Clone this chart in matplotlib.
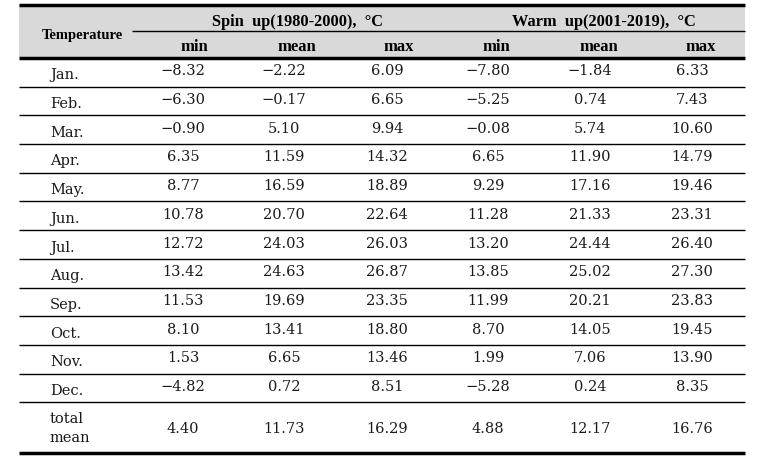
import matplotlib
matplotlib.use("Agg")
import matplotlib.pyplot as plt
from matplotlib.patches import Rectangle

months = ["Jan.", "Feb.", "Mar.", "Apr.", "May.", "Jun.", "Jul.", "Aug.",
          "Sep.", "Oct.", "Nov.", "Dec.", "total\nmean"]
groups = ["Spin  up(1980-2000),  \u00b0C", "Warm  up(2001-2019),  \u00b0C"]
subcols = ["min", "mean", "max"]

spin_min = [-8.32, -6.30, -0.90, 6.35, 8.77, 10.78, 12.72, 13.42, 11.53, 8.10, 1.53, -4.82, 4.40]
spin_mean = [-2.22, -0.17, 5.10, 11.59, 16.59, 20.70, 24.03, 24.63, 19.69, 13.41, 6.65, 0.72, 11.73]
spin_max = [6.09, 6.65, 9.94, 14.32, 18.89, 22.64, 26.03, 26.87, 23.35, 18.80, 13.46, 8.51, 16.29]
warm_min = [-7.80, -5.25, -0.08, 6.65, 9.29, 11.28, 13.20, 13.85, 11.99, 8.70, 1.99, -5.28, 4.88]
warm_mean = [-1.84, 0.74, 5.74, 11.90, 17.16, 21.33, 24.44, 25.02, 20.21, 14.05, 7.06, 0.24, 12.17]
warm_max = [6.33, 7.43, 10.60, 14.79, 19.46, 23.31, 26.40, 27.30, 23.83, 19.45, 13.90, 8.35, 16.76]

columns = [spin_min, spin_mean, spin_max, warm_min, warm_mean, warm_max]

# layout (pixels)
W, H = 781, 465
left, right = 19, 745
top = 5
mid = 31
hdr_bot = 58
row_h = 28.7
last_h = 51
num_x = [183, 284, 387, 488, 590, 692]
hdr_x = [194, 297, 399, 496, 599, 701]
group_x = [297, 604]
label_x = 50
sub_line_x0 = 132

fig = plt.figure(figsize=(W / 100, H / 100), dpi=100)
ax = fig.add_axes([0, 0, 1, 1])
ax.set_xlim(0, W)
ax.set_ylim(H, 0)
ax.axis("off")

# header background
ax.add_patch(Rectangle((left, top), right - left, hdr_bot - top,
                       facecolor="#d9d9d9", edgecolor="none", zorder=0))

serif = ["Liberation Serif", "DejaVu Serif"]
numfont = ["DejaVu Serif"]

# header text
ax.text(82, 36, "Temperature", ha="center", va="center",
        fontsize=10.5, fontweight="bold", family=serif)
for gx, g in zip(group_x, groups):
    ax.text(gx, 22, g, ha="center", va="center",
            fontsize=11.8, fontweight="bold", family=serif)
for i, cx in enumerate(hdr_x):
    ax.text(cx, 47, subcols[i % 3], ha="center", va="center",
            fontsize=12, fontweight="bold", family=serif)

# row boundaries
bounds = [hdr_bot]
for i in range(len(months)):
    h = last_h if i == len(months) - 1 else row_h
    bounds.append(bounds[-1] + h)


def fmt(v):
    s = f"{abs(v):.2f}"
    return ("\u2212" + s) if v < 0 else s


for i, m in enumerate(months):
    y0, y1 = bounds[i], bounds[i + 1]
    yc = (y0 + y1) / 2 + 1
    if "\n" in m:
        ax.text(label_x, yc, m, ha="left", va="center", fontsize=10.5,
                family=numfont, color="#1a1a1a", linespacing=1.45)
    else:
        ax.text(label_x, yc + 2, m, ha="left", va="center", fontsize=10.5,
                family=numfont, color="#1a1a1a")
    for cx, col in zip(num_x, columns):
        ax.text(cx, yc - 2 if i < len(months) - 1 else yc, fmt(col[i]),
                ha="center", va="center", fontsize=10.5,
                family=numfont, color="#1a1a1a")

# lines
ax.hlines(top, left, right, color="black", lw=2.5)
ax.hlines(mid, sub_line_x0, right, color="black", lw=1.0)
ax.hlines(hdr_bot, left, right, color="black", lw=2.5)
for b in bounds[1:-1]:
    ax.hlines(b, left, right, color="black", lw=1.0)
ax.hlines(bounds[-1], left, right, color="black", lw=2.5)

fig.savefig("out.png", dpi=100)
